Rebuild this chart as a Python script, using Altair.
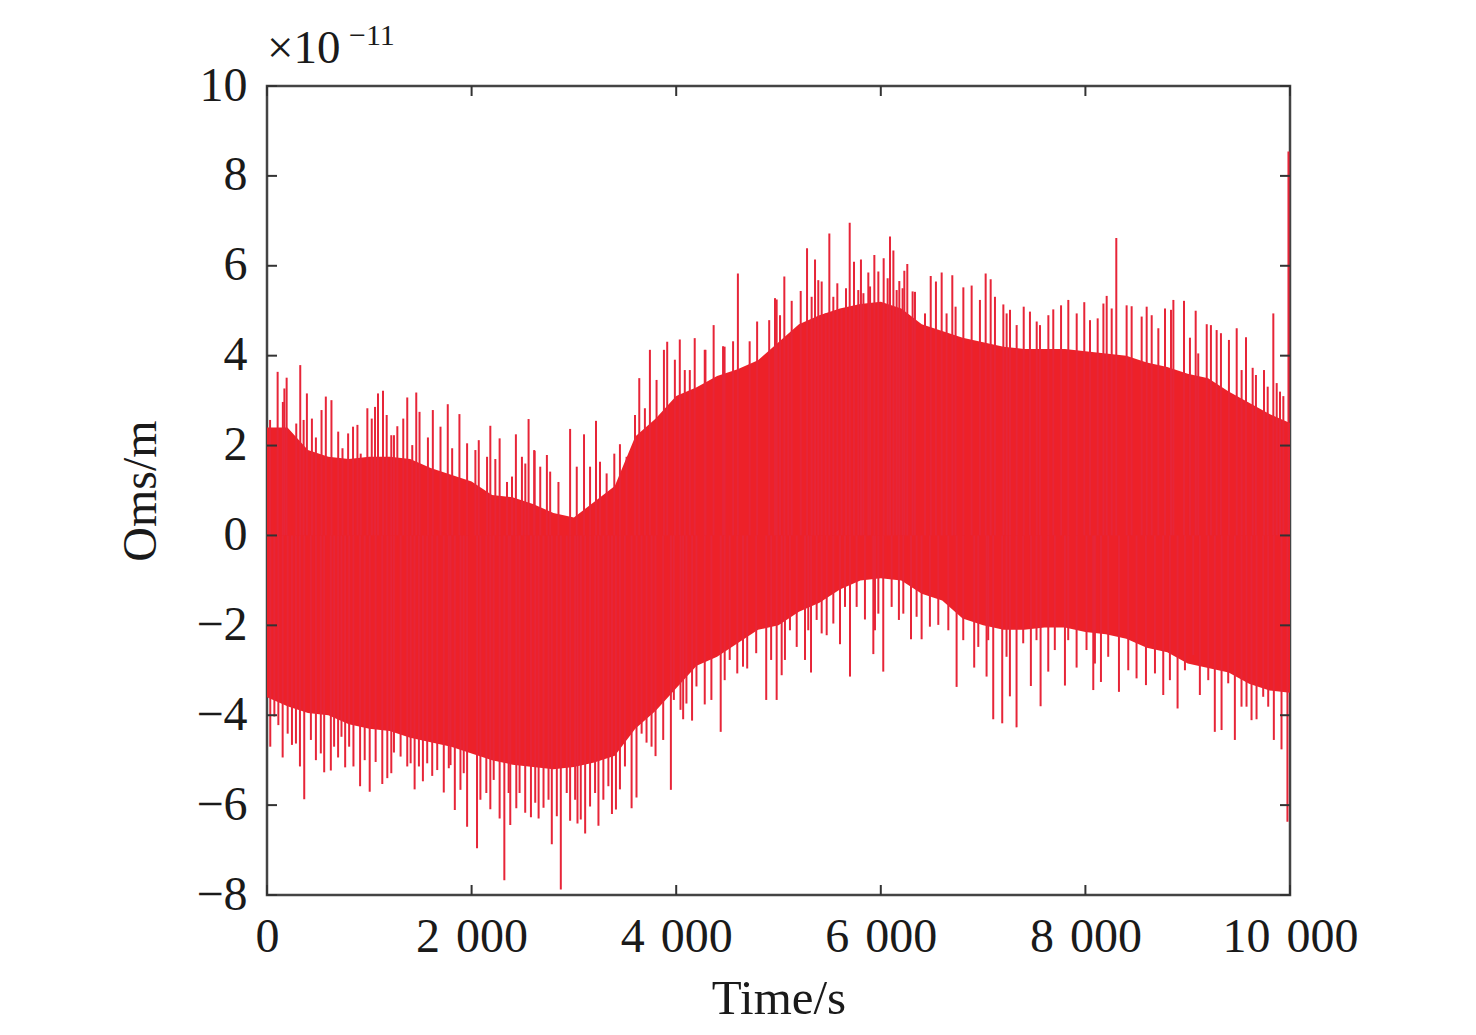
import altair as alt
import pandas as pd

# ---- data (values in units of 1e-11) ----
band_t = [0, 200, 400, 600, 800, 1000, 1200, 1400, 1600, 1800, 2000, 2200, 2400, 2600, 2800,
          3000, 3200, 3400, 3600, 3800, 4000, 4200, 4400, 4600, 4800, 5000, 5200, 5400, 5600,
          5800, 6000, 6200, 6400, 6600, 6800, 7000, 7200, 7400, 7600, 7800, 8000, 8200, 8400,
          8600, 8800, 9000, 9200, 9400, 9600, 9800, 10000]
band_upper = [2.4, 2.4, 1.9, 1.75, 1.7, 1.75, 1.75, 1.7, 1.5, 1.35, 1.2, 0.9, 0.85, 0.7, 0.5,
              0.4, 0.75, 1.1, 2.2, 2.6, 3.1, 3.3, 3.55, 3.7, 3.9, 4.3, 4.7, 4.9, 5.05,
              5.15, 5.2, 5.05, 4.7, 4.55, 4.4, 4.3, 4.2, 4.15, 4.15, 4.15, 4.1, 4.05, 4.0,
              3.85, 3.75, 3.6, 3.5, 3.2, 2.95, 2.7, 2.5]
band_lower = [-3.6, -3.8, -3.95, -4.0, -4.2, -4.3, -4.35, -4.5, -4.6, -4.7, -4.85, -5.0, -5.1, -5.15, -5.2,
              -5.15, -5.05, -4.9, -4.3, -3.9, -3.4, -2.9, -2.7, -2.4, -2.1, -2.0, -1.7, -1.5, -1.2,
              -1.0, -0.95, -1.0, -1.3, -1.45, -1.85, -2.0, -2.1, -2.1, -2.05, -2.05, -2.15, -2.2, -2.3,
              -2.5, -2.6, -2.85, -2.95, -3.05, -3.3, -3.45, -3.5]

# upward excursions (time s, peak value)
up_t = [104, 192, 325, 390, 575, 630, 884, 981, 1085, 1134, 1274, 1371, 1459, 1621, 1767, 1881,
        2070, 2183, 2274, 2433, 2557, 2616, 2736, 2963, 3099, 3216, 3450, 3639, 3743, 3912, 4035,
        4181, 4366, 4982, 5057, 5129, 5217, 5279, 5357, 5422, 5497, 5575, 5696, 5738, 5806, 5878,
        5937, 6028, 6090, 6123, 6181, 6230, 6259, 6334, 6488, 6595, 6699, 6807, 6888, 7025, 7074,
        7198, 7263, 7397, 7458, 7686, 7833, 7989, 8208, 8302, 8452, 8599, 8778, 8860, 8964, 9078,
        9186, 9283, 9479, 9570, 9635, 9746, 9837, 9902, 9985,
        30, 155, 170, 286, 358, 439, 478, 533, 696, 738, 793, 841, 916, 1024, 1056, 1170, 1215,
        1241, 1332, 1420, 1491, 1573, 1696, 1810, 1956, 2037, 2151, 2232, 2346, 2395, 2492, 2525,
        2612, 2671, 2768, 2849, 3028, 3158, 3255, 3320, 3395, 3515, 3597, 3694, 3808, 3880, 3987,
        4084, 4133, 4279, 4458, 4556, 4718, 4286, 4473, 4603, 4791, 4909, 4966,
        5015, 5096, 5324, 5389, 5461, 5536, 5617, 5660, 5780, 5830, 5895, 5976, 6067, 6155, 6213,
        6311, 6432, 6539, 6643, 6731, 6969, 7116, 7230, 7328, 7524, 7556, 7638, 7762, 7915, 8045,
        8120, 8176, 8257, 8403, 8550, 8648, 8713, 8837, 9022, 9103, 9227, 9325, 9403, 9527, 9667,
        9782, 9870, 9935]
up_v = [3.64, 3.51, 3.79, 3.16, 3.09, 3.01, 2.46, 2.83, 3.16, 3.22, 2.43, 3.07, 3.18, 2.79, 2.92, 2.70,
        2.12, 2.44, 2.16, 2.25, 2.59, 1.88, 1.79, 2.37, 2.25, 2.55, 2.03, 3.50, 4.13, 4.31, 4.36,
        4.39, 4.68, 5.25, 5.76, 5.22, 5.44, 6.39, 6.14, 5.65, 6.72, 5.61, 6.96, 6.09, 6.14, 5.85,
        6.24, 6.17, 6.65, 6.34, 5.66, 5.89, 6.04, 5.42, 5.77, 5.85, 5.79, 5.52, 5.56, 5.83, 5.70,
        5.14, 5.02, 5.09, 4.98, 5.03, 5.24, 5.19, 5.33, 6.62, 5.10, 5.09, 5.05, 5.24, 5.22, 5.00,
        4.70, 4.57, 4.61, 4.41, 3.73, 3.68, 4.94, 3.20, 8.54,
        2.57, 2.97, 3.27, 2.49, 2.57, 2.60, 2.18, 2.79, 2.31, 1.94, 2.27, 2.42, 1.82, 2.60, 2.86, 2.68, 2.23,
        2.23, 2.60, 2.01, 2.75, 2.18, 2.42, 1.94, 2.05, 1.90, 1.75, 1.70, 1.19, 1.31, 1.75, 1.60,
        1.90, 1.53, 1.42, 1.19, 1.53, 1.53, 1.64, 1.38, 1.82, 1.75, 2.68, 2.83, 3.46, 4.13, 3.91,
        3.68, 3.68, 4.13, 4.21, 4.32, 4.32, 4.13, 4.20, 5.83, 4.76, 4.79, 5.28,
        4.90, 4.42, 5.31, 5.68, 4.94, 5.31, 5.02, 5.50, 5.46, 5.39, 5.54, 5.87, 5.72, 5.46, 5.50,
        5.43, 4.94, 5.65, 4.94, 5.09, 5.24, 5.31, 4.94, 4.68, 4.76, 4.68, 4.90, 5.12, 4.94, 4.79,
        4.83, 5.16, 5.05, 5.12, 4.87, 4.90, 4.61, 5.02, 4.40, 4.05, 4.68, 4.50, 4.35, 3.68, 3.57,
        3.31, 3.39, 3.10]

# downward excursions (time s, trough value)
lo_t = [32, 153, 244, 322, 364, 478, 559, 624, 695, 764, 845, 910, 1004, 1127, 1176, 1241, 1371,
        1443, 1524, 1615, 1728, 1777, 1836, 1891, 1956, 2053, 2183, 2274, 2320, 2378, 2437, 2580,
        2655, 2784, 2872, 2963, 3035, 3110, 3240, 3372, 3450, 3564, 3612, 3710, 3798, 3948, 4068,
        4155, 4279, 4435, 4597, 4694, 4880, 4982, 5031, 5178, 5259, 5318, 5471, 5601, 5699, 5845,
        5927, 6024, 6177, 6295, 6399, 6562, 6741, 6913, 7034, 7099, 7187, 7262, 7327, 7467, 7562,
        7637, 7800, 7914, 8077, 8152, 8328, 8500, 8592, 8761, 8901, 9119, 9265, 9331, 9461, 9624,
        9673, 9842, 9917, 9975,
        72, 111, 202, 283, 429, 526, 656, 728, 803, 955, 1062, 1215, 1306, 1404, 1485, 1566, 1664,
        1794, 1923, 2086, 2144, 2216, 2362, 2469, 2524, 2622, 2703, 2752, 2833, 2930, 3012, 3067,
        3158, 3207, 3288, 3337, 3411, 3499, 3662, 3759, 3873, 3977, 4042, 4100, 4198, 4344, 4474,
        4523, 4653, 4782, 4928,
        5063, 5112, 5291, 5373, 5422, 5536, 5650, 5764, 5943, 5976, 6106, 6220, 6350, 6480, 6660,
        6806, 6953, 7050, 7229, 7392, 7522, 7701, 7832, 8011, 8093, 8223, 8419, 8680, 8826, 8973,
        9054, 9201, 9396, 9526, 9575, 9738, 9787]
lo_v = [-4.70, -4.94, -4.66, -5.14, -5.87, -5.00, -5.27, -5.23, -4.94, -5.16, -5.14, -5.58, -5.70,
        -5.53, -5.40, -4.83, -5.14, -5.65, -5.47, -5.35, -5.72, -5.18, -6.11, -5.66, -6.48, -6.96,
        -6.09, -6.30, -7.67, -6.44, -6.07, -6.27, -6.30, -6.87, -7.88, -6.35, -6.41, -6.63, -6.46,
        -6.20, -5.65, -6.07, -5.83, -4.61, -4.91, -5.66, -4.09, -4.12, -3.76, -4.37, -3.07, -2.96,
        -3.66, -3.66, -3.11, -2.48, -2.77, -3.05, -2.22, -2.42, -3.14, -1.87, -2.64, -3.03, -1.88,
        -2.31, -2.31, -1.99, -3.37, -2.94, -3.14, -4.09, -4.18, -3.58, -4.27, -3.35, -3.80, -3.03,
        -3.34, -2.94, -3.44, -3.26, -3.48, -3.18, -3.33, -3.55, -3.85, -3.55, -4.37, -4.33, -4.55,
        -4.11, -4.09, -4.55, -4.76, -6.37,
        -4.03, -4.22, -4.41, -4.63, -4.55, -4.85, -4.70, -4.48, -4.70, -5.00, -5.04, -5.29, -4.92,
        -5.07, -5.14, -5.07, -5.22, -5.11, -5.29, -5.88, -5.73, -5.44, -5.73, -5.73, -6.17, -5.95,
        -6.06, -5.88, -6.25, -5.73, -5.88, -6.32, -6.03, -5.73, -5.88, -5.58, -6.10, -5.14, -4.41,
        -4.70, -4.55, -3.66, -3.88, -3.74, -3.36, -3.66, -3.22, -2.77, -2.92, -2.62, -2.77,
        -2.77, -2.11, -2.11, -1.88, -2.18, -1.96, -1.59, -1.59, -2.11, -1.74, -1.59, -1.74, -1.81,
        -2.03, -2.11, -2.33, -2.48, -2.33, -2.70, -2.40, -2.33, -2.55, -2.33, -2.55, -2.85, -2.70,
        -3.00, -3.07, -3.22, -3.00, -2.66, -3.22, -3.29, -3.81, -3.81, -3.59, -3.81]

x_ticks = [0, 2000, 4000, 6000, 8000, 10000]
y_ticks = [-8, -6, -4, -2, 0, 2, 4, 6, 8, 10]

RED = "#ED2129"
FONT = "Liberation Serif"
INK = "#1a1a1a"
W, H = 1023, 809

band = pd.DataFrame({"t": band_t, "hi": band_upper, "lo": band_lower})
spikes = pd.DataFrame({"t": up_t + lo_t, "v": up_v + lo_v})

xs = alt.Scale(domain=[0, 10000], nice=False)
ys = alt.Scale(domain=[-8, 10], nice=False)

x_axis = alt.Axis(values=x_ticks, tickSize=0, grid=False, domain=False, labelFlush=False,
                  labelOverlap=False, labelFont=FONT, labelFontSize=48, labelColor=INK,
                  labelPadding=18,
                  labelExpr="datum.value == 0 ? '0' : format(datum.value/1000, 'd') + '\u2004000'",
                  title="Time/s", titleFont=FONT, titleFontSize=49, titleFontWeight="normal",
                  titleColor=INK, titlePadding=13)
y_axis = alt.Axis(values=y_ticks, tickSize=0, grid=False, domain=False, labelFlush=False,
                  labelOverlap=False, labelFont=FONT, labelFontSize=48, labelColor=INK,
                  labelPadding=20,
                  title="Oms/m", titleFont=FONT, titleFontSize=48, titleFontWeight="normal",
                  titleColor=INK, titlePadding=30)

area = alt.Chart(band).mark_area(color=RED, opacity=1, interpolate="linear").encode(
    x=alt.X("t:Q", scale=xs, axis=x_axis),
    y=alt.Y("hi:Q", scale=ys, axis=y_axis),
    y2="lo:Q",
)

spk = alt.Chart(spikes).mark_rule(color="#E72538", strokeWidth=2).encode(
    x=alt.X("t:Q", scale=xs),
    y=alt.Y("v:Q", scale=ys),
    y2=alt.datum(0),
)

ytk = pd.DataFrame({"v": y_ticks})
xtk = pd.DataFrame({"t": x_ticks})
TK = "#333333"
left_t = alt.Chart(ytk).mark_rule(color=TK, strokeWidth=2).encode(
    y=alt.Y("v:Q", scale=ys), x=alt.value(0), x2=alt.value(10))
right_t = alt.Chart(ytk).mark_rule(color=TK, strokeWidth=2).encode(
    y=alt.Y("v:Q", scale=ys), x=alt.value(W - 10), x2=alt.value(W))
bot_t = alt.Chart(xtk).mark_rule(color=TK, strokeWidth=2).encode(
    x=alt.X("t:Q", scale=xs), y=alt.value(H - 10), y2=alt.value(H))
top_t = alt.Chart(xtk).mark_rule(color=TK, strokeWidth=2).encode(
    x=alt.X("t:Q", scale=xs), y=alt.value(0), y2=alt.value(10))

exp_base = alt.Chart(pd.DataFrame({"s": ["\u00d710"]})).mark_text(
    font=FONT, fontSize=47, align="left", baseline="alphabetic", color=INK
).encode(text="s:N", x=alt.value(0), y=alt.value(-23))
exp_sup = alt.Chart(pd.DataFrame({"s": ["\u221211"]})).mark_text(
    font=FONT, fontSize=30, align="left", baseline="alphabetic", color=INK
).encode(text="s:N", x=alt.value(82), y=alt.value(-41))

chart = alt.layer(area, spk, left_t, right_t, bot_t, top_t, exp_base, exp_sup).properties(
    width=W, height=H,
    background="white",
    autosize=alt.AutoSizeParams(type="none"),
    padding={"left": 259, "top": 78, "right": 170, "bottom": 130},
).configure_view(stroke="#444444", strokeWidth=2.5)

chart.save("out.html", embed_options={"renderer": "svg", "actions": False})
